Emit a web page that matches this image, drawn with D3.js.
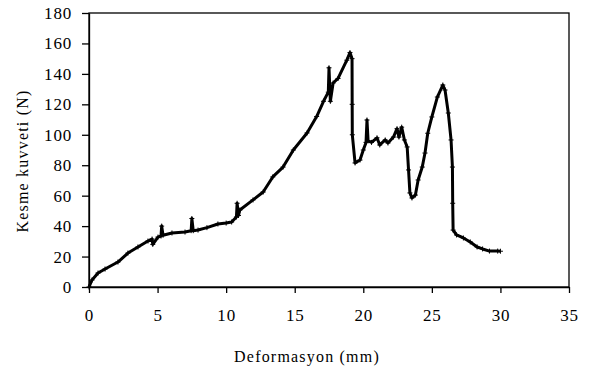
<!DOCTYPE html>
<html>
<head>
<meta charset="utf-8">
<script src="https://cdn.jsdelivr.net/npm/d3@7/dist/d3.min.js"></script>
<style>
  body { margin: 0; background: #fff; }
</style>
</head>
<body>
<div id="plot"></div>
<script>
// deformation (mm) and shear force (N)
const deformation = [0, 0.22, 0.66, 1.17, 2.11, 2.84, 3.57, 4.3, 4.6, 4.65, 5.03, 5.25, 5.3, 5.4, 6.05, 7.0, 7.45, 7.5, 7.6, 7.95, 8.6, 9.4, 10.0, 10.4, 10.75, 10.8, 10.9, 11.0, 11.96, 12.7, 13.4, 14.15, 14.9, 15.9, 16.6, 17.1, 17.45, 17.5, 17.6, 17.8, 18.16, 18.8, 19.03, 19.18, 19.19, 19.2, 19.4, 19.76, 20.0, 20.2, 20.27, 20.35, 20.6, 21.0, 21.2, 21.6, 21.8, 22.2, 22.46, 22.6, 22.8, 23.0, 23.2, 23.3, 23.4, 23.55, 23.8, 24.0, 24.3, 24.5, 24.7, 25.0, 25.4, 25.8, 25.96, 26.2, 26.4, 26.5, 26.52, 26.55, 26.8, 27.3, 27.8, 28.3, 28.7, 29.2, 29.8, 30.0];
const force = [0, 4.6, 9.2, 11.8, 16.4, 22.3, 26.3, 30.2, 31.5, 28, 32.8, 33.5, 40, 34, 35.5, 36.1, 37, 45, 37, 37.4, 39, 41.4, 42, 42.7, 46, 55, 47, 50.6, 57.2, 62.4, 72.3, 78.8, 90, 101.2, 112, 122, 128, 144, 122, 134, 137, 149, 154, 150, 120, 100, 81.5, 83.4, 90, 95, 109.7, 96, 95, 98, 93.3, 96.6, 94.6, 98.5, 104, 98.5, 105, 96.6, 92, 76.9, 61.8, 58.5, 60.4, 70.3, 78.8, 88, 101, 111.7, 124.8, 132.7, 129.4, 114.3, 96.6, 78.8, 55, 37.4, 34.2, 32.2, 29.6, 26.3, 25, 23.6, 23.6, 23.5];

const xTicks = [0, 5, 10, 15, 20, 25, 30, 35];
const yTicks = [0, 20, 40, 60, 80, 100, 120, 140, 160, 180];

const w = 589;
const h = 367;
const margin = {top: 13, right: 20, bottom: 80, left: 89};
const serif = "\"Liberation Serif\"";

const xScale = d3.scaleLinear()
                 .domain([0, 35])
                 .range([margin.left, w - margin.right]);
const yScale = d3.scaleLinear()
                 .domain([0, 180])
                 .range([h - margin.bottom, margin.top]);

const svg = d3.select("#plot")
              .append("svg")
              .attr("width", w)
              .attr("height", h);

// frame round the plot area
svg.append("rect")
   .attr("x", margin.left)
   .attr("y", margin.top)
   .attr("width", w - margin.left - margin.right)
   .attr("height", h - margin.top - margin.bottom)
   .attr("fill", "none")
   .attr("stroke", "#000")
   .attr("stroke-width", 1.3);

const xAxis = d3.axisBottom(xScale).tickValues(xTicks).tickSize(6).tickSizeOuter(0).tickPadding(16);
const yAxis = d3.axisLeft(yScale).tickValues(yTicks).tickSize(7).tickSizeOuter(0).tickPadding(10);

function styleAxis(g) {
  g.attr("font-family", null).attr("font-size", null);
  g.select(".domain").attr("stroke-width", 1.3);
  g.selectAll("line").attr("stroke-width", 1.3);
  g.selectAll("text")
   .style("font-family", serif)
   .style("font-size", "17px")
   .style("letter-spacing", "0.8px");
}

svg.append("g")
   .attr("transform", "translate(0," + (h - margin.bottom) + ")")
   .call(xAxis)
   .call(styleAxis);

svg.append("g")
   .attr("transform", "translate(" + margin.left + ",0)")
   .call(yAxis)
   .call(styleAxis);

// axis titles
svg.append("text")
   .attr("x", 307)
   .attr("y", 362)
   .attr("text-anchor", "middle")
   .style("font-family", serif)
   .style("font-size", "16px")
   .style("letter-spacing", "1.2px")
   .text("Deformasyon (mm)");

svg.append("text")
   .attr("transform", "translate(28,161) rotate(-90)")
   .attr("text-anchor", "middle")
   .style("font-family", serif)
   .style("font-size", "16px")
   .style("letter-spacing", "1.2px")
   .text("Kesme kuvveti (N)");

//-------------curve------------------------
const points = deformation.map((d, i) => [d, force[i]]);

const line = d3.line()
               .x(d => xScale(d[0]))
               .y(d => yScale(d[1]));

svg.append("path")
   .datum(points)
   .attr("d", line)
   .attr("fill", "none")
   .attr("stroke", "#000")
   .attr("stroke-width", 3)
   .attr("stroke-linejoin", "round");

// small plus markers on each reading
svg.selectAll(".mark")
   .data(points)
   .enter()
   .append("path")
   .attr("class", "mark")
   .attr("transform", d => "translate(" + xScale(d[0]) + "," + yScale(d[1]) + ")")
   .attr("d", "M-2.5,0H2.5M0,-2.5V2.5")
   .attr("stroke", "#000")
   .attr("stroke-width", 1);
</script>
</body>
</html>
